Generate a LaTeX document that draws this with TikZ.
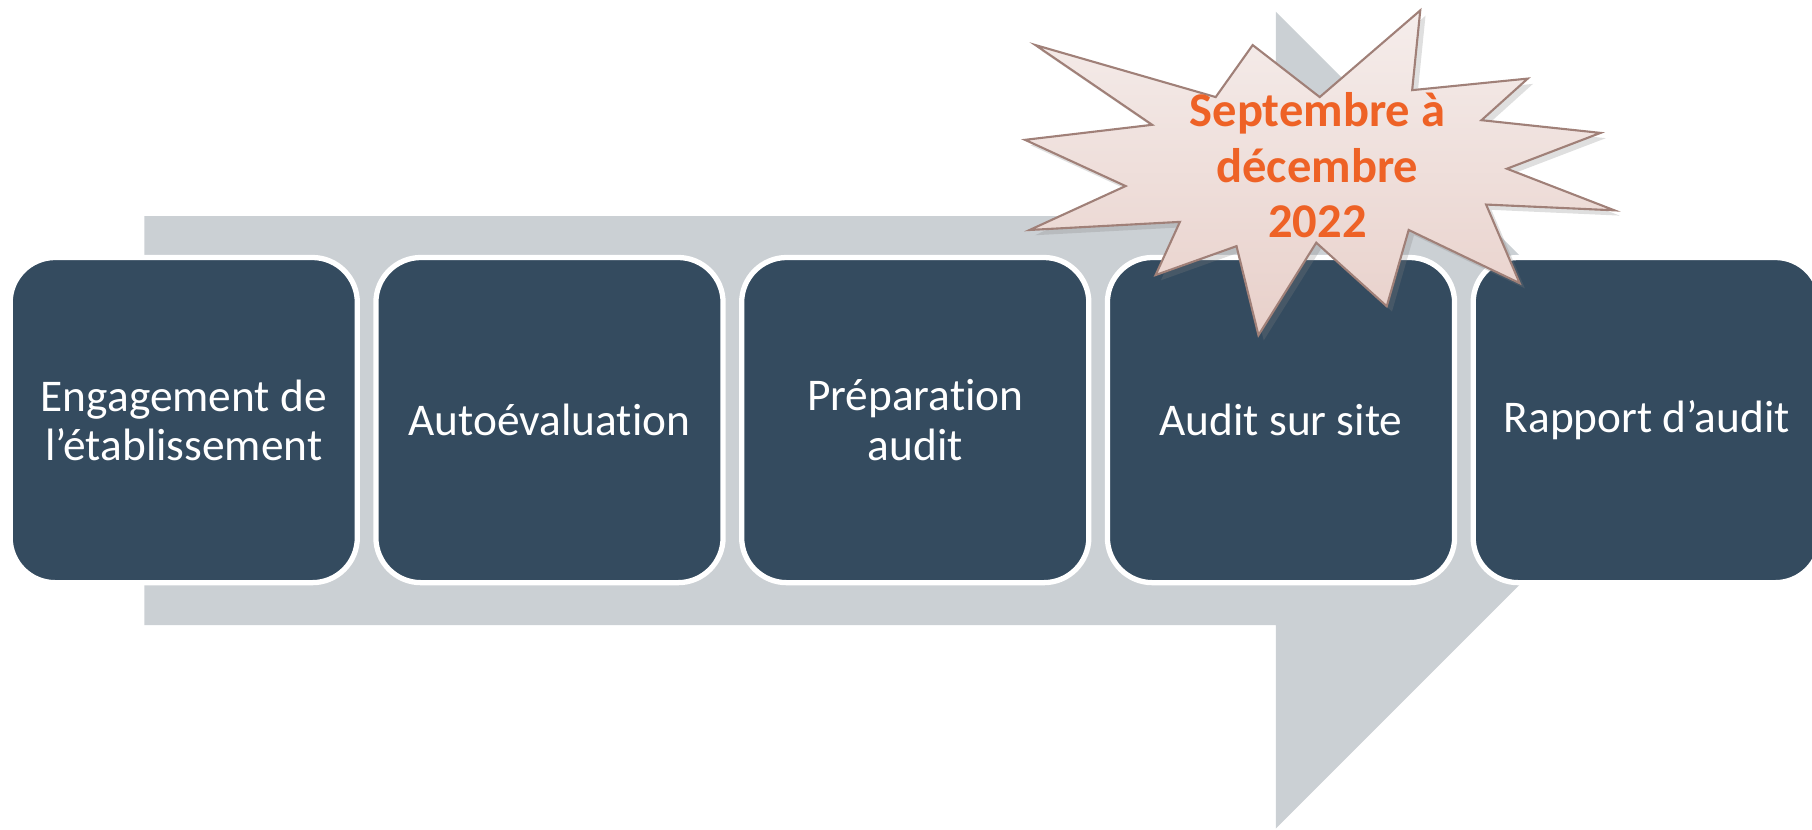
\documentclass[tikz,border=0pt]{standalone}
\usepackage{fontspec}
\setmainfont{Carlito}[Ligatures={NoCommon,NoContextual}]
\usetikzlibrary{shadows}
\definecolor{arrowgray}{RGB}{203,208,212}
\definecolor{boxblue}{RGB}{52,75,95}
\definecolor{burstline}{RGB}{160,128,120}
\definecolor{bursttop}{RGB}{245,237,235}
\definecolor{burstbot}{RGB}{232,208,202}
\definecolor{orangetxt}{RGB}{238,98,38}
\tikzset{
  stepbox/.style={draw=white, line width=1.5pt, fill=boxblue, rounded corners=0.45cm,
    minimum width=3.47cm, minimum height=3.25cm, align=center, text=white,
    font=\fontsize{12.9}{14}\selectfont, inner sep=0pt},
  bursttext/.style={align=center, text=orangetxt, font=\bfseries\fontsize{13.8}{15.8}\selectfont},
  burst/.style={draw=burstline, line width=0.6pt, top color=bursttop, bottom color=burstbot,
    drop shadow={opacity=0.25, shadow xshift=1.5pt, shadow yshift=-1.5pt}}
}
\begin{document}
\begin{tikzpicture}[x=0.011556cm, y=-0.011556cm]
\useasboundingbox (0,0) rectangle (1568,717.4);
% big background arrow
\fill[arrowgray] (125,187) -- (1104,187) -- (1104,10) -- (1457.5,363.5) -- (1104,717) -- (1104,541) -- (125,541) -- cycle;
% step boxes
\node[stepbox] (s1) at (159,363.5) {Engagement de\\l’établissement};
\node[stepbox] (s2) at (475.5,363.5) {Autoévaluation};
\node[stepbox] (s3) at (792,363.5) {Préparation\\audit};
\node[stepbox] (s4) at (1108.5,363.5) {Audit sur site};
\node[stepbox] (s5) at (1425,363.5) {Rapport d’audit};
% starburst
\path[burst] (896,39) -- (1052,84) -- (1084,39) -- (1142,84) -- (1229,9) -- (1222,78)
  -- (1322,68) -- (1282,104) -- (1385,115) -- (1304,146) -- (1397,182) -- (1286,177)
  -- (1315,245) -- (1219,199) -- (1200,265) -- (1139,210) -- (1089,290) -- (1070,213)
  -- (1000,238) -- (1021,192) -- (891,199) -- (974,161) -- (887,121) -- (997,108) -- cycle;
\node[bursttext] (date) at (1140,143) {Septembre à\\décembre\\2022};
\end{tikzpicture}
\end{document}
